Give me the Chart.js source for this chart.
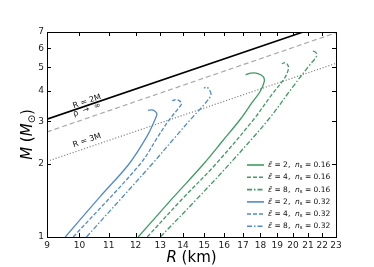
<!DOCTYPE html>
<html>
<head>
<meta charset="utf-8">
<script src="https://cdn.jsdelivr.net/npm/chart.js@4.4.0/dist/chart.umd.min.js"></script>
<style>
  html, body { margin: 0; padding: 0; background: #fff; }
  #wrap { width: 374px; height: 267px; }
</style>
</head>
<body>
<div id="wrap"><canvas id="mrChart"></canvas></div>
<script>
// tick labels
const xTicks = [9, 10, 11, 12, 13, 14, 15, 16, 17, 18, 19, 20, 21, 22, 23];
const yTicks = [1, 2, 3, 4, 5, 6, 7];

// reference lines (R in km, M in solar masses)
const bhR = [9, 20.67];
const bhM = [3.06, 7.0];
const rhoR = [9, 23];
const rhoM = [2.71, 6.95];
const photonR = [9, 23];
const photonM = [2.05, 5.2];

// mass-radius curves, ns = 0.16
const g2R = [12.1, 13.47, 14.94, 15.88, 16.85, 17.51, 17.97, 18.22, 18.16, 17.86, 17.45, 17.15];
const g2M = [1.0, 1.425, 1.99, 2.47, 3.05, 3.58, 3.97, 4.37, 4.58, 4.72, 4.74, 4.67];
const g4R = [12.46, 13.93, 15.55, 17.6, 18.63, 19.45, 19.7, 19.68, 19.5, 19.3];
const g4M = [1.0, 1.425, 1.99, 3.05, 3.83, 4.5, 4.9, 5.1, 5.23, 5.18];
const g8R = [13.0, 14.61, 16.25, 18.47, 19.98, 21.14, 21.55, 21.6, 21.45, 21.25];
const g8M = [1.0, 1.425, 1.99, 3.05, 4.15, 5.14, 5.5, 5.68, 5.82, 5.85];

// mass-radius curves, ns = 0.32
const b2R = [9.55, 10.7, 11.73, 12.45, 12.78, 12.86, 12.78, 12.66, 12.5];
const b2M = [1.0, 1.47, 1.99, 2.6, 3.05, 3.22, 3.3, 3.34, 3.33];
const b4R = [9.8, 12.18, 12.91, 13.39, 13.8, 13.93, 13.82, 13.65, 13.52];
const b4M = [1.0, 2.0, 2.6, 3.05, 3.4, 3.55, 3.65, 3.68, 3.64];
const b8R = [10.23, 12.66, 13.6, 14.34, 14.97, 15.3, 15.32, 15.24, 15.12, 14.98];
const b8M = [1.0, 2.0, 2.55, 3.05, 3.5, 3.8, 3.92, 4.05, 4.15, 4.11];

const legendEps = ['2', '4', '8', '2', '4', '8'];
const legendNs = ['0.16', '0.16', '0.16', '0.32', '0.32', '0.32'];

const green = 'rgba(52,150,88,0.95)';
const blue = 'rgba(70,132,198,0.95)';
const dashed = [4, 2];
const dashDot = [5, 2, 1.5, 2];

function pts(rs, ms) {
    return rs.map((r, i) => ({ x: r, y: ms[i] }));
}

function curve(rs, ms, color, dash) {
    return {
        data: pts(rs, ms),
        borderColor: color,
        borderWidth: 1.3,
        borderDash: dash,
        pointRadius: 0,
        tension: 0.35,
        fill: false
    };
}

const datasets = [
    curve(g2R, g2M, green, []),
    curve(g4R, g4M, green, dashed),
    curve(g8R, g8M, green, dashDot),
    curve(b2R, b2M, blue, []),
    curve(b4R, b4M, blue, dashed),
    curve(b8R, b8M, blue, dashDot),
    { data: pts(bhR, bhM), borderColor: '#000', borderWidth: 1.6, pointRadius: 0, tension: 0 },
    { data: pts(rhoR, rhoM), borderColor: '#aaa', borderWidth: 1.2, borderDash: [5, 3], pointRadius: 0, tension: 0 },
    { data: pts(photonR, photonM), borderColor: '#888', borderWidth: 1.2, borderDash: [1.2, 1.8], pointRadius: 0, tension: 0 }
];

const FONT = '"DejaVu Sans", sans-serif';

// draw a run of text pieces, each with its own size / style / baseline shift
function drawRich(ctx, x, y, parts, align) {
    let total = 0;
    parts.forEach(p => {
        ctx.font = (p.italic ? 'italic ' : '') + p.size + 'px ' + FONT;
        p.w = ctx.measureText(p.t).width;
        total += p.w;
    });
    let cx = align === 'center' ? x - total / 2 : x;
    parts.forEach(p => {
        ctx.font = (p.italic ? 'italic ' : '') + p.size + 'px ' + FONT;
        ctx.fillText(p.t, cx, y + (p.dy || 0));
        cx += p.w;
    });
}

const decorPlugin = {
    id: 'decor',
    afterDraw(chart) {
        const { ctx, chartArea: a, scales: { x, y } } = chart;
        ctx.save();

        // frame
        ctx.strokeStyle = '#000';
        ctx.lineWidth = 1;
        ctx.setLineDash([]);
        ctx.strokeRect(a.left + 0.5, a.top + 0.5, a.right - a.left, a.bottom - a.top);

        // inward ticks on all four sides
        ctx.beginPath();
        xTicks.forEach(v => {
            const px = Math.round(x.getPixelForValue(v)) + 0.5;
            ctx.moveTo(px, a.bottom); ctx.lineTo(px, a.bottom - 4);
            ctx.moveTo(px, a.top); ctx.lineTo(px, a.top + 4);
        });
        yTicks.forEach(v => {
            const py = Math.round(y.getPixelForValue(v)) + 0.5;
            ctx.moveTo(a.left, py); ctx.lineTo(a.left + 4, py);
            ctx.moveTo(a.right, py); ctx.lineTo(a.right - 4, py);
        });
        ctx.stroke();

        // rotated labels along the reference lines
        const notes = [
            { text: 'R = 2M', r: 10.25, m: 3.62, line: 6 },
            { text: 'ρ  →  ∞', r: 10.24, m: 3.35, line: 7 },
            { text: 'R = 3M', r: 10.25, m: 2.5, line: 8 }
        ];
        ctx.fillStyle = '#111';
        ctx.textBaseline = 'middle';
        ctx.textAlign = 'center';
        ctx.font = '8px ' + FONT;
        notes.forEach(n => {
            const d = chart.data.datasets[n.line].data;
            const x0 = x.getPixelForValue(d[0].x), y0 = y.getPixelForValue(d[0].y);
            const x1 = x.getPixelForValue(d[1].x), y1 = y.getPixelForValue(d[1].y);
            ctx.save();
            ctx.translate(x.getPixelForValue(n.r), y.getPixelForValue(n.m));
            ctx.rotate(Math.atan2(y1 - y0, x1 - x0));
            ctx.fillText(n.text, 0, 0);
            ctx.restore();
        });

        // legend
        ctx.textAlign = 'left';
        const rowY = [165, 177.3, 189.6, 201.9, 214, 226.2];
        for (let i = 0; i < 6; i++) {
            const ds = chart.data.datasets[i];
            ctx.strokeStyle = ds.borderColor;
            ctx.lineWidth = 1.6;
            ctx.setLineDash(ds.borderDash || []);
            ctx.beginPath();
            ctx.moveTo(247, rowY[i]);
            ctx.lineTo(264, rowY[i]);
            ctx.stroke();
            ctx.fillStyle = '#111';
            drawRich(ctx, 268, rowY[i], [
                { t: 'ε̃', size: 7.5, italic: true },
                { t: ' = ' + legendEps[i] + ',  ', size: 7.5 },
                { t: 'n', size: 7.5, italic: true },
                { t: 's', size: 5.3, dy: 1.8 },
                { t: ' = ' + legendNs[i], size: 7.5 }
            ]);
        }
        ctx.setLineDash([]);

        // axis titles
        ctx.fillStyle = '#000';
        ctx.textBaseline = 'alphabetic';
        drawRich(ctx, (a.left + a.right) / 2, 262, [
            { t: 'R', size: 15, italic: true },
            { t: ' (km)', size: 15 }
        ], 'center');

        ctx.save();
        ctx.translate(32, (a.top + a.bottom) / 2);
        ctx.rotate(-Math.PI / 2);
        drawRich(ctx, 0, 0, [
            { t: 'M', size: 15, italic: true },
            { t: ' (', size: 15 },
            { t: 'M', size: 15, italic: true },
            { t: '⊙', size: 10, dy: 3 },
            { t: ')', size: 15 }
        ], 'center');
        ctx.restore();

        ctx.restore();
    }
};

const ctx = document.getElementById('mrChart').getContext('2d');
new Chart(ctx, {
    type: 'line',
    data: { datasets: datasets },
    options: {
        responsive: true,
        maintainAspectRatio: false,
        animation: false,
        devicePixelRatio: 1,
        layout: { padding: { left: 0, right: 38, top: 32, bottom: 0 } },
        plugins: {
            legend: { display: false },
            tooltip: { enabled: false }
        },
        scales: {
            x: {
                type: 'logarithmic',
                min: 9,
                max: 23,
                afterBuildTicks: s => { s.ticks = xTicks.map(v => ({ value: v })); },
                afterFit: s => { s.height = 30; },
                grid: { display: false, drawTicks: false },
                border: { display: false },
                ticks: {
                    autoSkip: false,
                    maxRotation: 0,
                    padding: 3,
                    color: '#222',
                    font: { size: 9, family: 'DejaVu Sans' },
                    callback: v => String(v)
                }
            },
            y: {
                type: 'logarithmic',
                min: 1,
                max: 7,
                afterBuildTicks: s => { s.ticks = yTicks.map(v => ({ value: v })); },
                afterFit: s => { s.width = 47; },
                grid: { display: false, drawTicks: false },
                border: { display: false },
                ticks: {
                    autoSkip: false,
                    padding: 3,
                    color: '#222',
                    font: { size: 9, family: 'DejaVu Sans' },
                    callback: v => String(v)
                }
            }
        }
    },
    plugins: [decorPlugin]
});
</script>
</body>
</html>
